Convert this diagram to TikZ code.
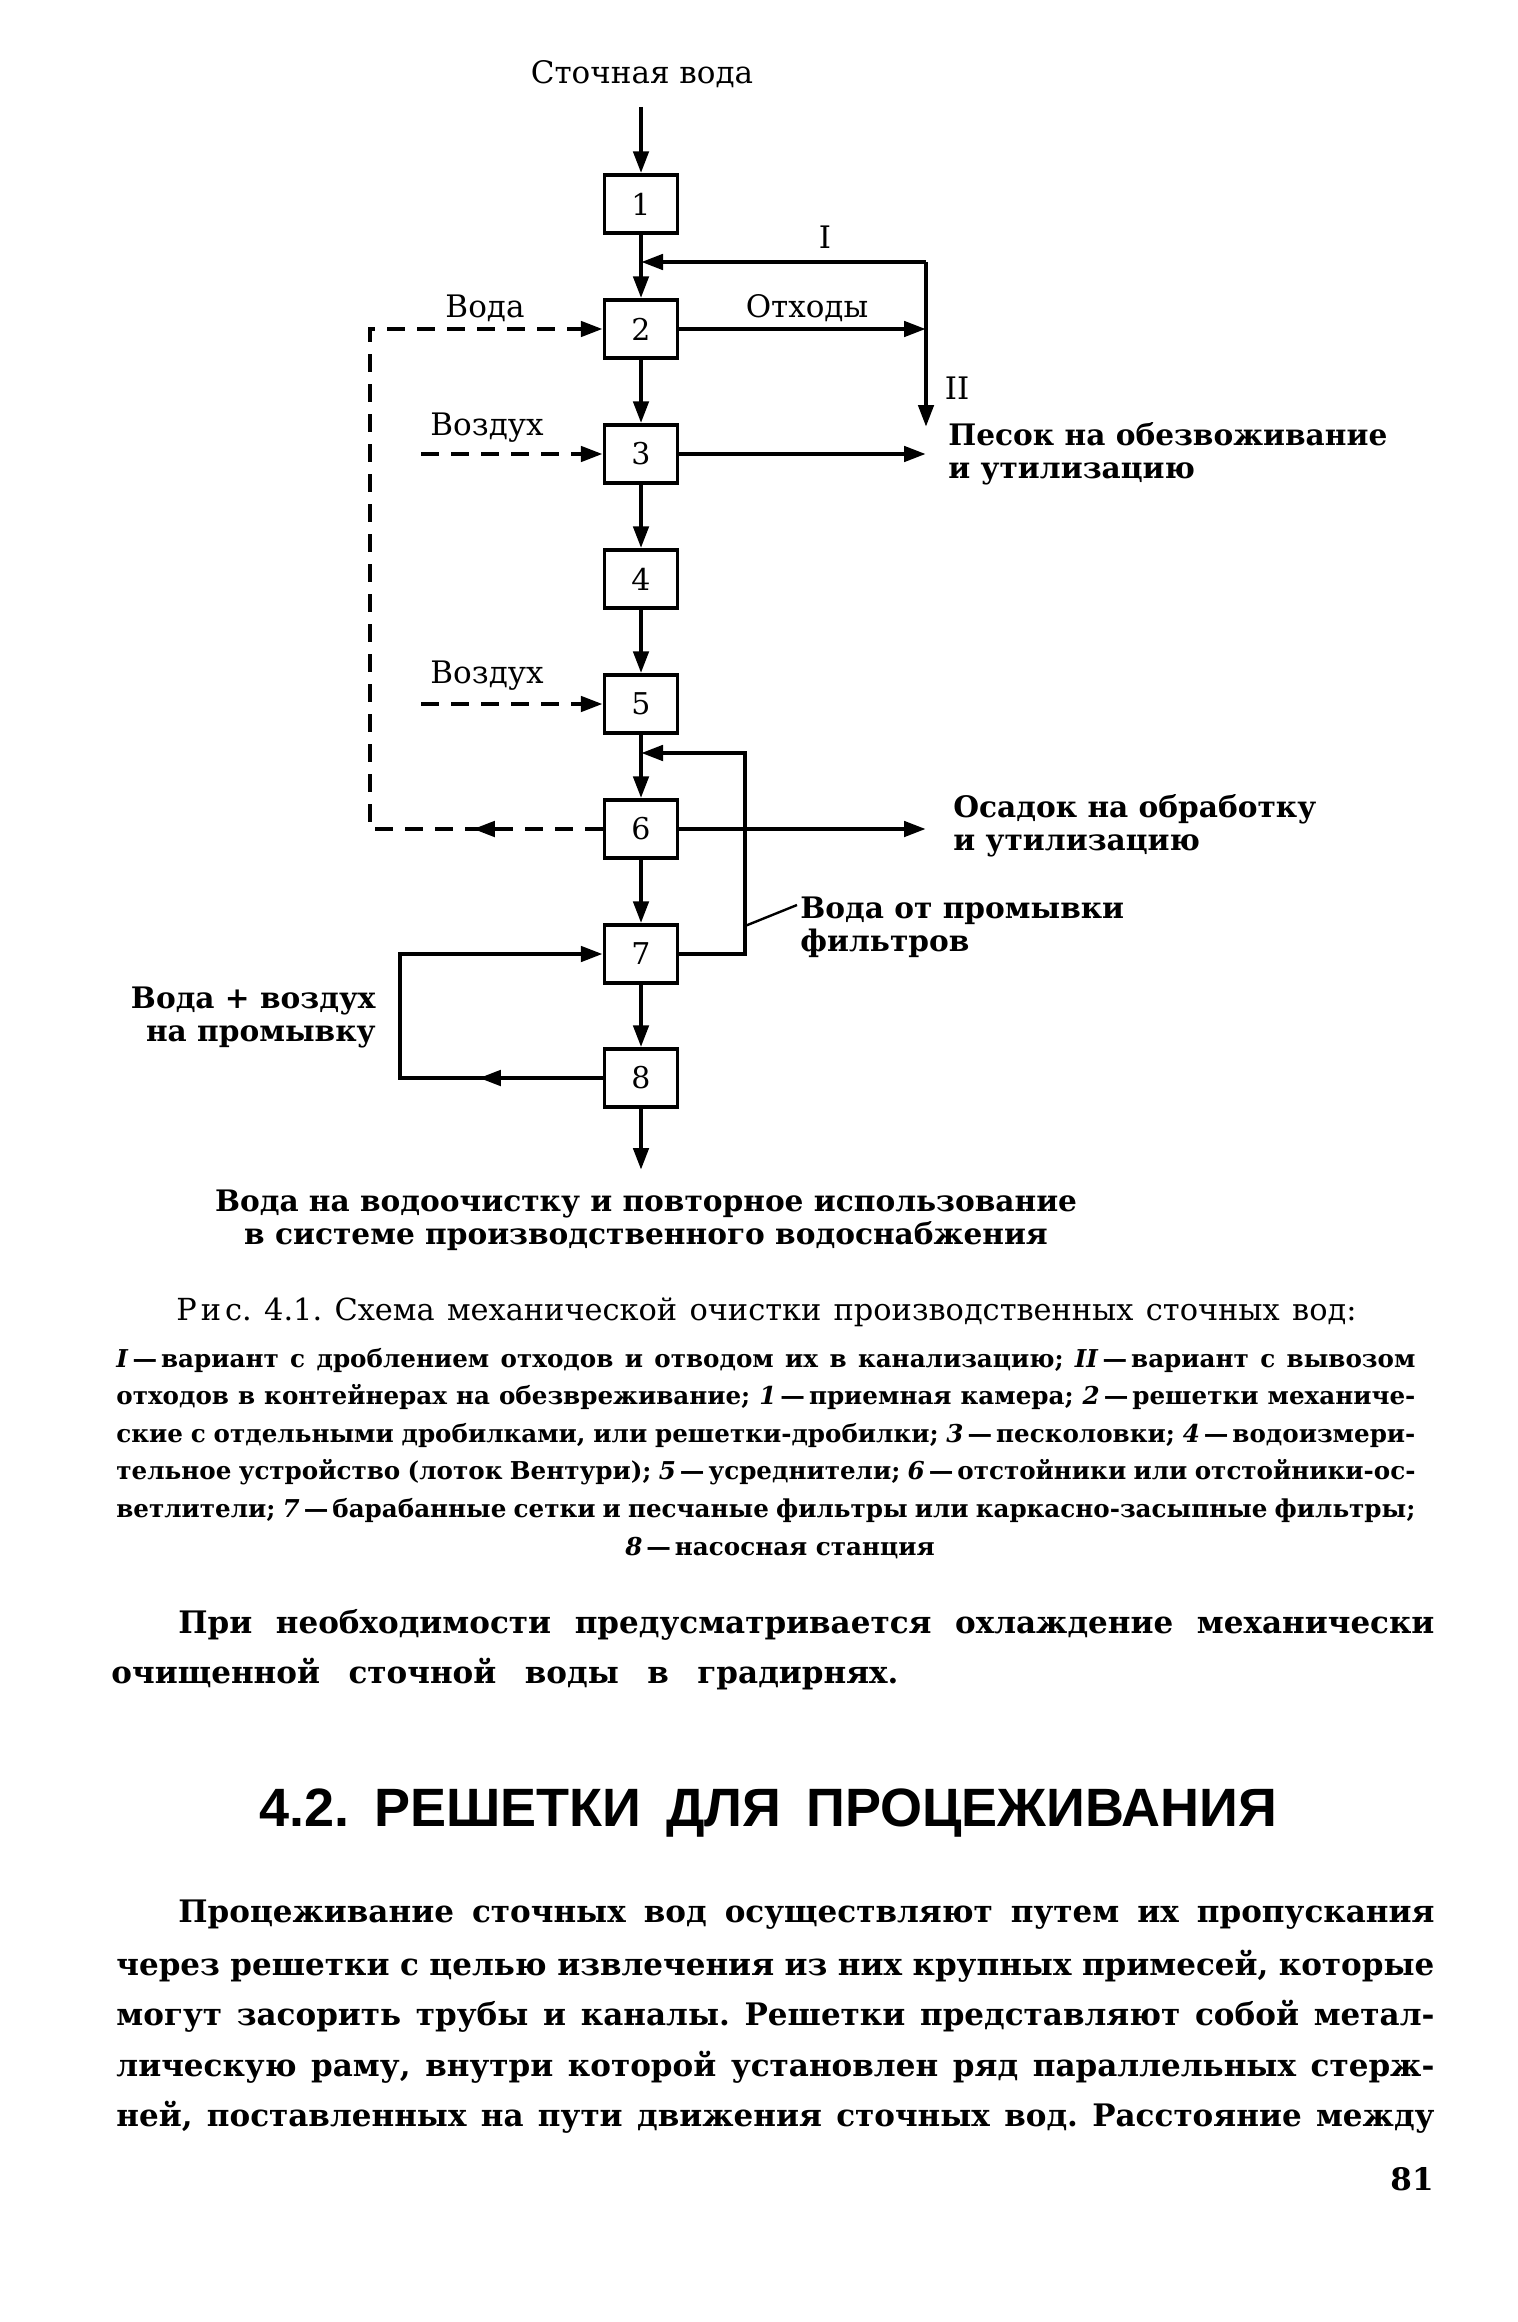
\documentclass[tikz,border=0pt]{standalone}
\usepackage{fontspec}
\setmainfont{DejaVu Serif}
\newfontfamily\headf{Liberation Sans}
\usetikzlibrary{arrows.meta,decorations.markings}
\newcommand\legdash{\kern2pt—\kern2pt}
\frenchspacing
\tikzset{
  tip/.tip={Triangle[length=11pt,width=7.5pt]},
  blk/.style={draw, line width=1.7pt, minimum width=36.5pt, minimum height=29pt, inner sep=0pt, font=\fontsize{15}{18}\selectfont},
  flow/.style={line width=2.3pt, -tip},
  dline/.style={line width=2.3pt, dash pattern=on 9pt off 6pt},
  dflow/.style={dline, -tip},
  midarr/.style={postaction={decorate}, decoration={markings, mark=at position #1 with {\arrow{tip}}}},
  lab/.style={font=\fontsize{15.5}{16.5}\selectfont, inner sep=0pt},
  labb/.style={font=\bfseries\fontsize{14.8}{16.5}\selectfont, inner sep=0pt},
  captxt/.style={font=\fontsize{15.2}{18}\selectfont, inner sep=0pt, anchor=west},
  legtxt/.style={font=\bfseries\fontsize{12.3}{15.5}\selectfont, inner sep=0pt, anchor=west},
  bodytxt/.style={font=\bfseries\fontsize{15.5}{25}\selectfont, inner sep=0pt, anchor=west},
  headtxt/.style={font=\headf\bfseries\fontsize{27}{30}\selectfont, inner sep=0pt, anchor=west},
}
\begin{document}
\begin{tikzpicture}[x=0.5pt,y=-0.5pt]
\fill[white] (0,0) rectangle (1517,2322);
\useasboundingbox (0,0) rectangle (1517,2322);

% boxes
\node[blk] (b1) at (641,204) {1};
\node[blk] (b2) at (641,329) {2};
\node[blk] (b3) at (641,454) {3};
\node[blk] (b4) at (641,579) {4};
\node[blk] (b5) at (641,704) {5};
\node[blk] (b6) at (641,829) {6};
\node[blk] (b7) at (641,954) {7};
\node[blk] (b8) at (641,1078) {8};

% coordinates
\coordinate (top) at (641,107);
\coordinate (bot) at (641,1170);
\coordinate (jI) at (926,262);
\coordinate (m12) at (641,262);
\coordinate (pII) at (926,427);
\coordinate (s3) at (926,454);
\coordinate (s6) at (926,829);
\coordinate (dl) at (370,329);
\coordinate (dlb) at (370,829);
\coordinate (a3) at (421,454);
\coordinate (a5) at (421,704);
\coordinate (lb) at (400,1078);
\coordinate (lt) at (400,954);
\coordinate (r7) at (745,954);
\coordinate (r5) at (745,753);
\coordinate (m56) at (641,753);
\coordinate (ld) at (745,926);
\coordinate (ldend) at (797,905);

% main chain
\draw[flow] (top) -- (b1);
\draw[flow] (b1) -- (b2);
\draw[flow] (b2) -- (b3);
\draw[flow] (b3) -- (b4);
\draw[flow] (b4) -- (b5);
\draw[flow] (b5) -- (b6);
\draw[flow] (b6) -- (b7);
\draw[flow] (b7) -- (b8);
\draw[flow] (b8) -- (bot);

% waste branches
\draw[flow] (b2) -- (b2 -| jI);
\draw[flow] (jI) -- (m12);
\draw[flow] (jI) -- (pII);
\draw[flow] (b3) -- (s3);
\draw[flow] (b6) -- (s6);

% dashed water / air
\draw[dflow, midarr=65pt] (b6.west) -- (dlb) -- (dl) -- (b2.west);
\draw[dflow] (a3) -- (b3);
\draw[dflow] (a5) -- (b5);

% filter wash loops
\draw[flow] (b7.east) -- (r7) -- (r5) -- (m56);
\draw[flow, midarr=62pt] (b8.west) -- (lb) -- (lt) -- (b7.west);
\draw[line width=1.2pt] (ld) -- (ldend);

% diagram labels
\node[lab] (src) at (642,74) {Сточная вода};
\node[lab] (lI) at (825,237) {I};
\node[lab] (lII) at (957,388) {II};
\node[lab] (lotx) at (807,308) {Отходы};
\node[lab] (lvoda) at (485,308) {Вода};
\node[lab] (lair1) at (487,428) {Воздух};
\node[lab] (lair2) at (487,676) {Воздух};
\node[labb, anchor=west, align=left] (sand) at (948,454) {Песок на обезвоживание\\и утилизацию};
\node[labb, anchor=west, align=left] (sludge) at (953,826) {Осадок на обработку\\и утилизацию};
\node[labb, anchor=west, align=left] (wash) at (800,927) {Вода от промывки\\фильтров};
\node[labb, anchor=east, align=right] (wair) at (376,1017) {Вода + воздух\\на промывку};
\node[labb, align=center] (out) at (646,1220) {Вода на водоочистку и повторное использование\\в системе производственного водоснабжения};

% caption
\node[captxt] (capt) at (176,1312) {\makebox[590pt][s]{Р\kern2ptи\kern2ptс. 4.1. Схема механической очистки производственных сточных вод:}};
\node[legtxt] (lg1) at (116,1360) {\makebox[649.5pt][s]{\textit{I}\legdash вариант с дроблением отходов и отводом их в канализацию; \textit{II}\legdash вариант с вывозом}};
\node[legtxt] (lg2) at (116,1397) {\makebox[649.5pt][s]{отходов в контейнерах на обезвреживание; \textit{1}\legdash приемная камера; \textit{2}\legdash решетки механиче-}};
\node[legtxt] (lg3) at (116,1435) {\makebox[649.5pt][s]{ские с отдельными дробилками, или решетки-дробилки; \textit{3}\legdash песколовки; \textit{4}\legdash водоизмери-}};
\node[legtxt] (lg4) at (116,1472) {\makebox[649.5pt][s]{тельное устройство (лоток Вентури); \textit{5}\legdash усреднители; \textit{6}\legdash отстойники или отстойники-ос-}};
\node[legtxt] (lg5) at (116,1510) {\makebox[649.5pt][s]{ветлители; \textit{7}\legdash барабанные сетки и песчаные фильтры или каркасно-засыпные фильтры;}};
\node[legtxt, anchor=center] (lg6) at (780,1548) {\textit{8}\legdash насосная станция};

% body text
\node[bodytxt] (p1a) at (178,1625) {\makebox[628pt][s]{При необходимости предусматривается охлаждение механически}};
\node[bodytxt] (p1b) at (111,1674) {\makebox[393.5pt][s]{очищенной сточной воды в градирнях.}};
\node[headtxt] (head) at (259,1813) {\makebox[509pt][s]{4.2. РЕШЕТКИ ДЛЯ ПРОЦЕЖИВАНИЯ}};
\node[bodytxt] (q1) at (178,1915) {\makebox[628pt][s]{Процеживание сточных вод осуществляют путем их пропускания}};
\node[bodytxt] (q2) at (116,1966) {\makebox[659pt][s]{через решетки с целью извлечения из них крупных примесей, которые}};
\node[bodytxt] (q3) at (116,2016) {\makebox[659pt][s]{могут засорить трубы и каналы. Решетки представляют собой метал-}};
\node[bodytxt] (q4) at (116,2067) {\makebox[659pt][s]{лическую раму, внутри которой установлен ряд параллельных стерж-}};
\node[bodytxt] (q5) at (116,2117) {\makebox[659pt][s]{ней, поставленных на пути движения сточных вод. Расстояние между}};
\node[bodytxt, anchor=east] (pg) at (1434,2179) {81};
\end{tikzpicture}
\end{document}
